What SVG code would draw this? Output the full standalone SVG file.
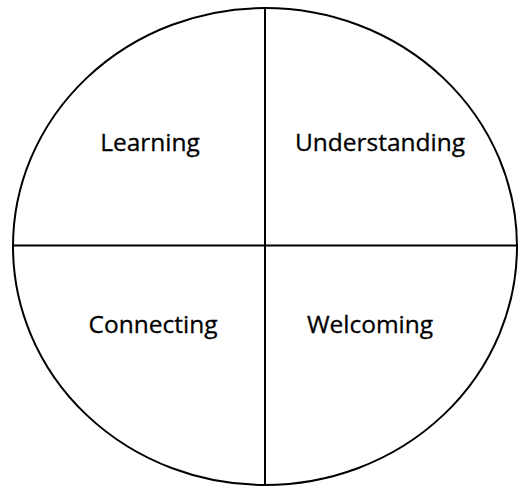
<svg xmlns="http://www.w3.org/2000/svg" width="518" height="487" viewBox="0 0 518 487">
  <style>
    .edge { fill: none; stroke: #000; stroke-width: 2; }
    .label { font-family: "Open Sans", "Liberation Sans", sans-serif; font-size: 24.5px; font-weight: 500; fill: #000; stroke: #000; stroke-width: 0.3; text-anchor: middle; }
  </style>
  <rect width="518" height="487" fill="#fff"/>
  <g id="outline">
    <ellipse class="edge" cx="265" cy="246.5" rx="252" ry="238.5"/>
  </g>
  <g id="connectors">
    <line class="edge" x1="265" y1="8" x2="265" y2="486"/>
    <line class="edge" x1="13" y1="245.5" x2="518" y2="245.5"/>
  </g>
  <g id="learning">
    <text class="label" x="150" y="151">Learning</text>
  </g>
  <g id="understanding">
    <text class="label" x="380" y="151">Understanding</text>
  </g>
  <g id="connecting">
    <text class="label" x="153" y="333">Connecting</text>
  </g>
  <g id="welcoming">
    <text class="label" x="370" y="333">Welcoming</text>
  </g>
</svg>
